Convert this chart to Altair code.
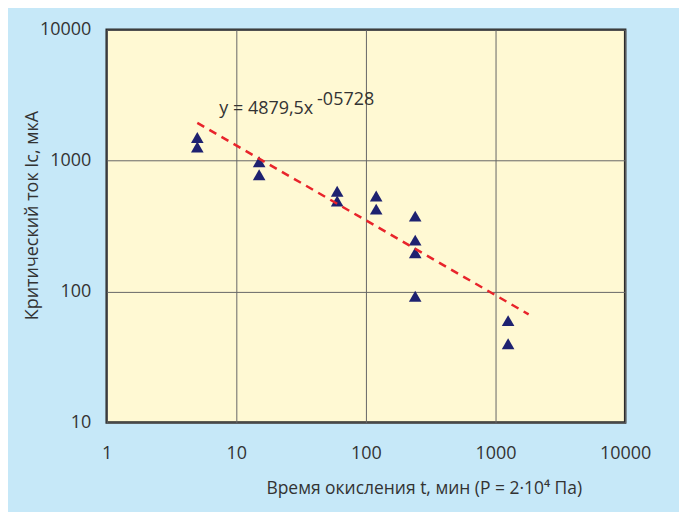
import altair as alt
import pandas as pd

# ---- data ----
time_min = [5, 5, 15, 15, 60, 60, 120, 120, 240, 240, 240, 240, 1250, 1250]
current_ua = [1500, 1270, 980, 780, 584, 492, 537, 426, 377, 247, 198, 92, 60, 40]
trend_x = [5, 1800]
trend_y = [1940, 67]
x_ticks = [1, 10, 100, 1000, 10000]
y_ticks = [10, 100, 1000, 10000]
eq_main = ["y = 4879,5x"]
eq_exp = ["-05728"]
eq_main_x, eq_main_y = [7.4], [2290]
eq_exp_x, eq_exp_y = [42], [2640]

x_title = "Время окисления t, мин (P = 2·10⁴ Па)"
y_title = "Критический ток Ic, мкА"

FONT = "Open Sans"
TXT = "#333333"

df_pts = pd.DataFrame({"t": time_min, "ic": current_ua})
df_trend = pd.DataFrame({"t": trend_x, "ic": trend_y})
df_eq1 = pd.DataFrame({"t": eq_main_x, "ic": eq_main_y, "txt": eq_main})
df_eq2 = pd.DataFrame({"t": eq_exp_x, "ic": eq_exp_y, "txt": eq_exp})

xscale = alt.Scale(type="log", domain=[1, 10000], nice=False)
yscale = alt.Scale(type="log", domain=[10, 10000], nice=False)

x_enc = alt.X("t:Q", scale=xscale, axis=alt.Axis(
    values=x_ticks, format="d", title=x_title, labelFlush=False,
    titleX=318, titleY=66, titleAlign="center", titleBaseline="middle",
    titleFontSize=17.5, labelPadding=22))
y_enc = alt.Y("ic:Q", scale=yscale, axis=alt.Axis(
    values=y_ticks, format="d", title=y_title, labelFlush=False,
    titleX=-74, titleY=186, titleAlign="center", titleBaseline="middle",
    titleFontSize=18, titleAngle=270, labelPadding=16))

points = alt.Chart(df_pts).mark_point(
    shape="triangle-up", filled=True, size=160, color="#1e2270", opacity=1
).encode(x=x_enc, y=y_enc)

trend = alt.Chart(df_trend).mark_line(
    color="#e8242b", strokeWidth=2.5, strokeDash=[8, 6]
).encode(x=x_enc, y=y_enc)

eq1 = alt.Chart(df_eq1).mark_text(
    align="left", baseline="alphabetic", font=FONT, fontSize=18, color=TXT
).encode(x=x_enc, y=y_enc, text="txt:N")

eq2 = alt.Chart(df_eq2).mark_text(
    align="left", baseline="alphabetic", font=FONT, fontSize=18, color=TXT
).encode(x=x_enc, y=y_enc, text="txt:N")

chart = alt.layer(points, trend, eq1, eq2).properties(
    width=520, height=394,
    autosize=alt.AutoSizeParams(type="none"),
    padding={"left": 99, "top": 21, "right": 54, "bottom": 89},
    background="#c6e8f8",
).configure_view(
    fill="#fff9d3", stroke="#2a2a2a", strokeWidth=2.5
).configure_axis(
    grid=True, gridColor="#666666", gridWidth=1, gridOpacity=1,
    ticks=False, domain=False,
    labelFont=FONT, labelFontSize=18, labelColor=TXT,
    titleFont=FONT, titleFontWeight="normal", titleColor=TXT,
)

chart.save("out.html", embed_options={"renderer": "svg", "actions": False})
